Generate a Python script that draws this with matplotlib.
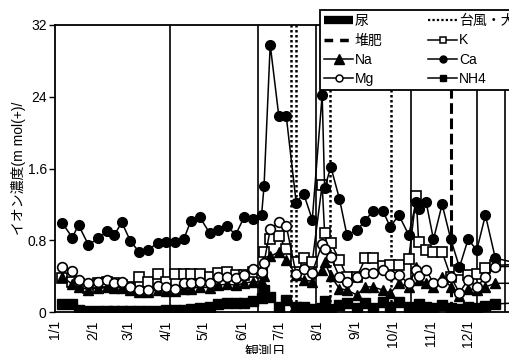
import numpy as np
import pandas as pd
import matplotlib
matplotlib.use('Agg')
import matplotlib.pyplot as plt
from matplotlib.lines import Line2D

plt.rcParams['font.family'] = ['Liberation Sans', 'Noto Sans CJK JP']
plt.rcParams['font.size'] = 10

# 観測日（週1回程度、夏は間隔が短い）
sample_dates = [
    '2003-01-07', '2003-01-15', '2003-01-20', '2003-01-28', '2003-02-05', '2003-02-12',
    '2003-02-18', '2003-02-24', '2003-03-03', '2003-03-10', '2003-03-17', '2003-03-25',
    '2003-04-01', '2003-04-08', '2003-04-15', '2003-04-21', '2003-04-28', '2003-05-06',
    '2003-05-13', '2003-05-20', '2003-05-27', '2003-06-03', '2003-06-10', '2003-06-17',
    '2003-06-19', '2003-06-24', '2003-07-01', '2003-07-07', '2003-07-15', '2003-07-21',
    '2003-07-28', '2003-08-05', '2003-08-07', '2003-08-12', '2003-08-19', '2003-08-25',
    '2003-09-02', '2003-09-09', '2003-09-15', '2003-09-23', '2003-09-29', '2003-10-06',
    '2003-10-14', '2003-10-20', '2003-10-22', '2003-10-28', '2003-11-03', '2003-11-10',
    '2003-11-17', '2003-11-24', '2003-12-01', '2003-12-08', '2003-12-15', '2003-12-23',
    '2004-01-08',
]

k_vals = [3.8, 3.3, 3.1, 2.7, 3.2, 3.4, 3.2, 3.0, 2.8, 3.9, 3.4, 4.2,
          3.4, 4.2, 4.2, 4.2, 4.2, 3.9, 4.4, 4.5, 4.1, 4.1, 4.5, 4.3,
          6.7, 8.1, 8.5, 7.0, 5.6, 6.0, 5.6, 14.2, 8.8, 7.7, 5.8, 3.9,
          3.9, 6.0, 6.0, 5.1, 5.2, 5.2, 5.9, 12.9, 7.8, 6.9, 6.7, 6.7,
          3.9, 4.7, 4.1, 4.2, 4.9, 5.2, 5.3]
na_vals = [3.9, 3.1, 2.8, 2.5, 2.7, 2.8, 2.7, 2.7, 2.4, 2.2, 2.2, 2.5,
           2.3, 2.3, 2.6, 2.6, 2.8, 2.7, 3.0, 3.1, 3.0, 3.2, 3.4, 3.3,
           4.0, 6.2, 6.7, 5.8, 4.1, 3.6, 3.4, 4.7, 5.6, 4.0, 2.6, 2.45,
           1.9, 2.8, 2.8, 2.45, 2.1, 3.2, 2.8, 5.05, 3.6, 3.2, 2.8, 3.9,
           2.8, 1.8, 2.6, 2.45, 2.8, 3.2, 3.2]
ca_vals = [9.9, 8.3, 9.7, 7.5, 8.2, 9.0, 8.6, 10.0, 7.9, 6.7, 6.9, 7.7,
           7.8, 7.8, 8.1, 10.2, 10.6, 8.8, 9.1, 9.6, 8.6, 10.6, 10.4, 10.8,
           14.0, 29.8, 21.8, 21.8, 12.2, 13.2, 10.3, 24.2, 13.8, 16.2, 12.6, 8.6,
           9.1, 10.2, 11.3, 11.3, 9.5, 10.8, 8.6, 12.3, 11.5, 12.3, 8.1, 12.0,
           8.1, 5.0, 8.1, 6.9, 10.8, 6.0, 5.5]
mg_vals = [5.05, 4.6, 3.6, 3.2, 3.4, 3.6, 3.2, 3.3, 2.75, 2.4, 2.4, 2.9,
           2.75, 2.6, 3.2, 3.2, 3.4, 3.2, 3.9, 3.9, 3.75, 4.1, 4.8, 4.5,
           5.5, 9.2, 10.0, 9.6, 4.2, 4.75, 4.4, 7.6, 7.0, 6.1, 3.9, 3.4,
           3.9, 4.4, 4.4, 4.7, 4.1, 4.1, 3.2, 4.7, 4.0, 4.7, 3.2, 3.4,
           3.9, 2.15, 3.6, 2.8, 3.9, 5.05, 5.1]
nh4_vals = [0.9, 0.9, 0.2, 0.1, 0.1, 0.1, 0.1, 0.1, 0.1, 0.1, 0.1, 0.1,
            0.2, 0.2, 0.2, 0.3, 0.4, 0.6, 0.9, 1.0, 1.0, 1.0, 1.2, 1.6,
            2.5, 1.7, 0.6, 1.3, 0.6, 0.6, 0.3, 0.5, 1.2, 0.3, 0.8, 1.0,
            0.5, 1.0, 0.45, 1.15, 0.6, 1.15, 0.6, 0.4, 0.9, 0.6, 0.4, 0.8,
            0.5, 0.3, 0.6, 0.4, 0.7, 0.9, 1.0]

# イベント日
urine_dates = ['2003-04-04', '2003-06-14', '2003-07-31', '2003-10-16', '2003-12-08', '2003-12-31']
storm_dates = ['2003-07-11', '2003-07-15', '2003-08-11', '2003-09-30']
compost_dates = ['2003-11-17']

month_ticks = ['2003-%02d-01' % m for m in range(1, 13)]
month_labels = ['%d/1' % m for m in range(1, 13)]
y_ticks = [0, 8, 16, 24, 32]
y_labels = ['0', '0.8', '1.6', '24', '32']

base = pd.Timestamp('2003-01-01')


def to_day(dates):
    return np.array([(pd.Timestamp(d) - base).days for d in dates], dtype=float)


x = to_day(sample_dates)

fig = plt.figure(figsize=(5.1, 3.54), dpi=100)
ax = fig.add_axes([55 / 510, 42 / 354, 470 / 510, 287 / 354])

for d in to_day(urine_dates):
    ax.axvline(d, color='black', lw=1.2, zorder=1)
for d in to_day(storm_dates):
    ax.axvline(d, color='black', lw=1.8, ls=(0, (1, 1)), zorder=1)
for d in to_day(compost_dates):
    ax.axvline(d, color='black', lw=2.2, ls=(0, (3.5, 1.5)), zorder=1)

lw = 1.1
ms = 7
ax.plot(x, k_vals, color='black', lw=lw, marker='s', ms=ms, mfc='white', mec='black', mew=1.2, zorder=3)
ax.plot(x, na_vals, color='black', lw=lw, marker='^', ms=ms + 0.5, mfc='black', mec='black', zorder=4)
ax.plot(x, ca_vals, color='black', lw=lw, marker='o', ms=ms, mfc='black', mec='black', zorder=5)
ax.plot(x, mg_vals, color='black', lw=lw, marker='o', ms=ms, mfc='white', mec='black', mew=1.2, zorder=6)
ax.plot(x, nh4_vals, color='black', lw=lw, marker='s', ms=ms, mfc='black', mec='black', zorder=7)

ax.set_xlim(0, 380)
ax.set_ylim(0, 32)
ax.set_yticks(y_ticks)
ax.set_yticklabels(y_labels)
ax.set_xticks(to_day(month_ticks))
ax.set_xticklabels(month_labels, rotation=90)
ax.tick_params(axis='y', direction='out', length=4, width=1, pad=2)
ax.tick_params(axis='x', length=0, pad=6)
for s in ax.spines.values():
    s.set_linewidth(1.3)

ax.set_ylabel('イオン濃度(m mol(+)/', labelpad=1)
fig.text(265 / 510, 1 - 345 / 354, '観測日', ha='center', va='top')

handles = [
    Line2D([], [], color='black', lw=6, solid_capstyle='butt'),
    Line2D([], [], color='black', lw=2.5, ls=(0, (2.5, 2))),
    Line2D([], [], color='black', lw=lw, marker='^', ms=ms, mfc='black'),
    Line2D([], [], color='black', lw=lw, marker='o', ms=ms - 2, mfc='white', mew=1.1),
    Line2D([], [], color='black', lw=1.6, ls=(0, (1, 1))),
    Line2D([], [], color='black', lw=lw, marker='s', ms=ms - 2, mfc='white', mew=1.1),
    Line2D([], [], color='black', lw=lw, marker='o', ms=ms - 2, mfc='black'),
    Line2D([], [], color='black', lw=lw, marker='s', ms=ms - 2, mfc='black'),
]
labels = ['尿', '堆肥', 'Na', 'Mg', '台風・大雨', 'K', 'Ca', 'NH4']
leg = fig.legend(handles, labels, loc='upper left', bbox_to_anchor=(320 / 510, 1 - 10 / 354),
                 bbox_transform=fig.transFigure, ncol=2, fontsize=10, frameon=True,
                 fancybox=False, edgecolor='black', framealpha=1, borderpad=0.3,
                 handlelength=2.1, handletextpad=0.1, columnspacing=3.3, labelspacing=0.38,
                 borderaxespad=0)
leg.get_frame().set_linewidth(1.3)

fig.savefig('out.png', dpi=100)
